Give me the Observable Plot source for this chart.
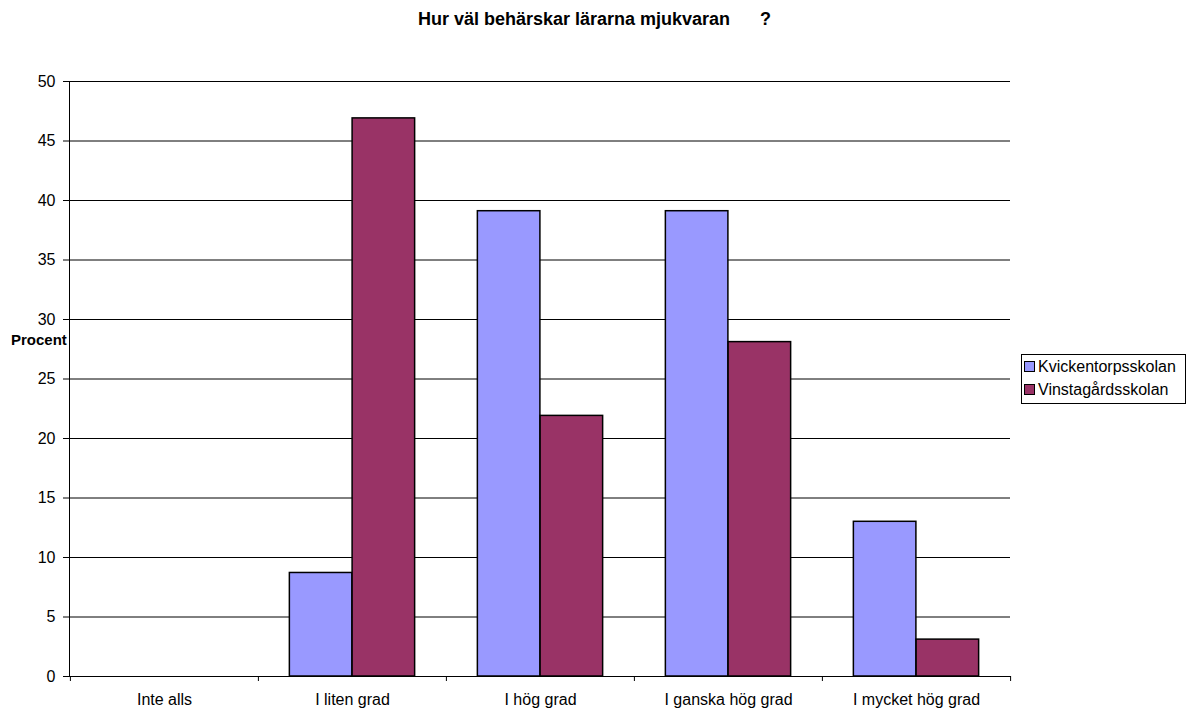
<!DOCTYPE html>
<html>
<head>
<meta charset="utf-8">
<script src="https://cdn.jsdelivr.net/npm/d3@7"></script>
<script src="https://cdn.jsdelivr.net/npm/@observablehq/plot@0.6"></script>
<style>
  body { margin: 0; background: white; font-family: "Liberation Sans", Arial, sans-serif; }
  #wrap { position: relative; width: 1189px; height: 709px; }
  #title { position: absolute; left: 0; width: 1189px; top: 9px; text-align: center; font-weight: bold; font-size: 18px; white-space: pre; }
  #ylab { position: absolute; left: 11px; top: 331px; font-weight: bold; font-size: 15px; }
  #legend { position: absolute; left: 1021px; top: 354px; width: 163px; height: 48px; border: 1px solid black; font-size: 16px; }
  .item { position: absolute; left: 2px; height: 20px; line-height: 20px; white-space: nowrap; }
  .sw { display: inline-block; width: 9px; height: 9px; border: 1px solid black; margin-right: 3px; vertical-align: 0px; }
</style>
</head>
<body>
<div id="wrap">
  <div id="title"></div>
  <div id="ylab"></div>
  <div id="legend"></div>
</div>
<script>
const title = "Hur väl behärskar lärarna mjukvaran      ?";
const yLabel = "Procent";
const categories = ["Inte alls", "I liten grad", "I hög grad", "I ganska hög grad", "I mycket hög grad"];
const seriesNames = ["Kvickentorpsskolan", "Vinstagårdsskolan"];
const seriesColors = ["#9999FF", "#993366"];
const kvick = [0, 8.7, 39.1, 39.1, 13.0];
const vinsta = [0, 46.9, 21.9, 28.1, 3.1];
const yTicks = [0, 5, 10, 15, 20, 25, 30, 35, 40, 45, 50];

const W = 1189, H = 709, mL = 69, mR = 179, mT = 81, mB = 33;
const bw = (W - mL - mR) / categories.length;
const outer = bw / 6;            // gap on each side of a bar pair
const barW = (bw - 2 * outer) / 2;

const toRows = (vals, s) => categories.map((c, i) => ({category: c, value: vals[i], series: s})).filter(d => d.value > 0);
const rowsK = toRows(kvick, seriesNames[0]);
const rowsV = toRows(vinsta, seriesNames[1]);

const chart = Plot.plot({
  width: W, height: H,
  marginLeft: mL, marginRight: mR, marginTop: mT, marginBottom: mB,
  style: {fontFamily: "'Liberation Sans', Arial, sans-serif", fontSize: "16px", color: "black", background: "white"},
  x: {domain: categories, padding: 0, tickSize: 0, tickPadding: 17, line: true, label: null},
  y: {domain: [0, 50], ticks: yTicks, tickSize: 6, tickPadding: 8, line: true, label: null},
  marks: [
    Plot.ruleY(yTicks.filter(t => t > 0), {stroke: "black", strokeWidth: 1}),
    Plot.barY(rowsK, {x: "category", y: "value", fill: seriesColors[0], stroke: "black", strokeWidth: 1.5,
      insetLeft: outer, insetRight: outer + barW}),
    Plot.barY(rowsV, {x: "category", y: "value", fill: seriesColors[1], stroke: "black", strokeWidth: 1.5,
      insetLeft: outer + barW, insetRight: outer}),
    Plot.ruleX(categories, {x: d => d, y1: 0, y2: 0, dx: -bw / 2, insetBottom: -5, stroke: "black"}),
    Plot.ruleX(categories.slice(-1), {x: d => d, y1: 0, y2: 0, dx: bw / 2, insetBottom: -5, stroke: "black"})
  ]
});
chart.style.position = "absolute";
chart.style.left = "0px";
chart.style.top = "0px";
const wrap = document.getElementById("wrap");
wrap.insertBefore(chart, wrap.firstChild);

document.getElementById("title").textContent = title;
document.getElementById("ylab").textContent = yLabel;
const legend = document.getElementById("legend");
seriesNames.forEach((s, i) => {
  const it = document.createElement("div");
  it.className = "item";
  it.style.top = (2 + i * 23) + "px";
  const sw = document.createElement("span");
  sw.className = "sw";
  sw.style.background = seriesColors[i];
  it.appendChild(sw);
  it.appendChild(document.createTextNode(s));
  legend.appendChild(it);
});
</script>
</body>
</html>
